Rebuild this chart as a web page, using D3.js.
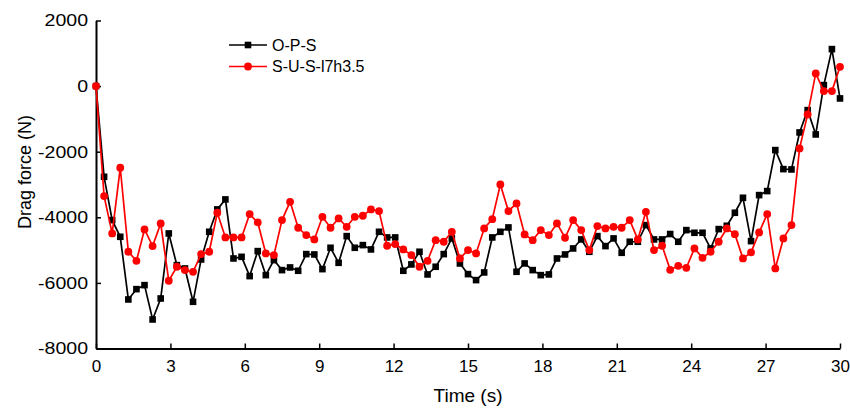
<!DOCTYPE html>
<html>
<head>
<meta charset="utf-8">
<script src="https://cdn.jsdelivr.net/npm/d3@7"></script>
<style>
  body { margin: 0; background: #fff; }
  svg { font-family: Arial, "Liberation Sans", sans-serif; }
</style>
</head>
<body>
<div class="chart"></div>
<script>
// sampling: 93 samples over 30 s
const dt = 30 / 92;

const opsForce = [
  0, -2765, -4086, -4594, -6505, -6190, -6068, -7115, -6475, -4492,
  -5458, -5560, -6576, -5285, -4442, -3760, -3455, -5255, -5205, -5793,
  -5031, -5763, -5305, -5610, -5529, -5630, -5122, -5133, -5580, -4929,
  -5387, -4574, -4929, -4848, -4980, -4442, -4614, -4614, -5630, -5437,
  -5051, -5742, -5508, -5122, -4644, -5407, -5732, -5915, -5681, -4614,
  -4442, -4309, -5661, -5407, -5610, -5763, -5742, -5255, -5133, -4950,
  -4675, -5051, -4574, -4878, -4644, -5082, -4746, -4746, -4238, -4675,
  -4675, -4510, -4746, -4391, -4472, -4472, -4950, -4360, -4259, -3862,
  -3405, -4726, -3323, -3201, -1951, -2531, -2541, -1413, -732, -1474,
  30, 1128, -376
];

const susForce = [
  0, -3354, -4492, -2490, -5051, -5326, -4370, -4878, -4187, -5935,
  -5508, -5610, -5661, -5122, -5051, -3862, -4614, -4614, -4614, -3903,
  -4157, -5102, -5153, -4086, -3527, -4319, -4543, -4675, -3984, -4319,
  -4035, -4289, -3984, -3953, -3760, -3811, -4868, -4817, -4980, -5153,
  -5508, -5326, -4696, -4746, -4442, -5255, -5000, -5102, -4340, -4056,
  -2998, -3811, -3577, -4523, -4696, -4391, -4543, -4187, -4624, -4086,
  -4391, -5000, -4269, -4340, -4289, -4319, -4086, -4675, -3832, -5000,
  -4868, -5600, -5478, -5539, -4950, -5234, -5051, -4746, -4340, -4513,
  -5255, -5071, -4462, -3903, -5560, -4644, -4238, -1900, -864, 386,
  -153, -153, 589
];

const seriesNames = ["O-P-S", "S-U-S-l7h3.5"];
const xTicks = [0, 3, 6, 9, 12, 15, 18, 21, 24, 27, 30];
const yTicks = [-8000, -6000, -4000, -2000, 0, 2000];

const width = 850, height = 410;
const margin = { top: 20.5, right: 10, bottom: 61.5, left: 96 };

const svg = d3.select("div.chart").append("svg")
    .attr("width", width)
    .attr("height", height);

const x = d3.scaleLinear().domain([0, 30]).range([margin.left, width - margin.right]);
const y = d3.scaleLinear().domain([-8000, 2000]).range([height - margin.bottom, margin.top]);

const series = [
  { name: seriesNames[0], values: opsForce, color: "#000000", shape: "square" },
  { name: seriesNames[1], values: susForce, color: "#ff0000", shape: "circle" }
];

// plain hyphen for negatives, like the original
const plain = d => String(d);

// axes, ticks point inward
let xAxis = svg.append("g")
    .attr("transform", `translate(0,${height - margin.bottom})`)
    .call(d3.axisBottom(x).tickValues(xTicks).tickFormat(plain)
      .tickSize(-5).tickPadding(11).tickSizeOuter(0));

let yAxis = svg.append("g")
    .attr("transform", `translate(${margin.left},0)`)
    .call(d3.axisLeft(y).tickValues(yTicks).tickFormat(plain)
      .tickSize(-5).tickPadding(8).tickSizeOuter(0));

[xAxis, yAxis].forEach( g => {
  g.select(".domain").attr("stroke", "#000").attr("stroke-width", 2);
  g.selectAll(".tick line").attr("stroke", "#000").attr("stroke-width", 1.5);
  g.selectAll(".tick text").attr("fill", "#000").style("font-size", "17px");
});

// y tick labels are drawn a bit wider in the original figure
yAxis.selectAll(".tick text")
    .attr("x", -8 / 1.15)
    .attr("transform", "scale(1.15,1)");

svg.append("text")
    .attr("x", (margin.left + width - margin.right) / 2)
    .attr("y", 402)
    .attr("text-anchor", "middle")
    .style("font-size", "19px")
    .text("Time (s)");

svg.append("text")
    .attr("transform", "translate(31,172) rotate(-90)")
    .attr("text-anchor", "middle")
    .style("font-size", "18px")
    .text("Drag force (N)");

const line = d3.line()
    .x((d, i) => x(i * dt))
    .y(d => y(d));

function drawMarker(g, shape, cx, cy, color) {
  if (shape === "square") {
    g.append("rect")
      .attr("x", cx - 3.3).attr("y", cy - 3.3)
      .attr("width", 6.6).attr("height", 6.6)
      .attr("fill", color);
  } else {
    g.append("circle")
      .attr("cx", cx).attr("cy", cy)
      .attr("r", 3.9)
      .attr("fill", color);
  }
}

series.forEach( s => {
  let g = svg.append("g").attr("class", "series");
  g.append("path")
    .datum(s.values)
    .attr("fill", "none")
    .attr("stroke", s.color)
    .attr("stroke-width", 1.7)
    .attr("d", line);
  s.values.forEach( (v, i) => drawMarker(g, s.shape, x(i * dt), y(v), s.color));
});

// legend
series.forEach( (s, i) => {
  let ly = 45 + i * 21.5;
  let g = svg.append("g").attr("class", "legend");
  g.append("line")
    .attr("x1", 229).attr("x2", 267)
    .attr("y1", ly).attr("y2", ly)
    .attr("stroke", s.color)
    .attr("stroke-width", 1.7);
  drawMarker(g, s.shape, 248, ly, s.color);
  g.append("text")
    .attr("x", 272)
    .attr("y", ly)
    .attr("dy", "0.36em")
    .style("font-size", "16px")
    .text(s.name);
});
</script>
</body>
</html>
